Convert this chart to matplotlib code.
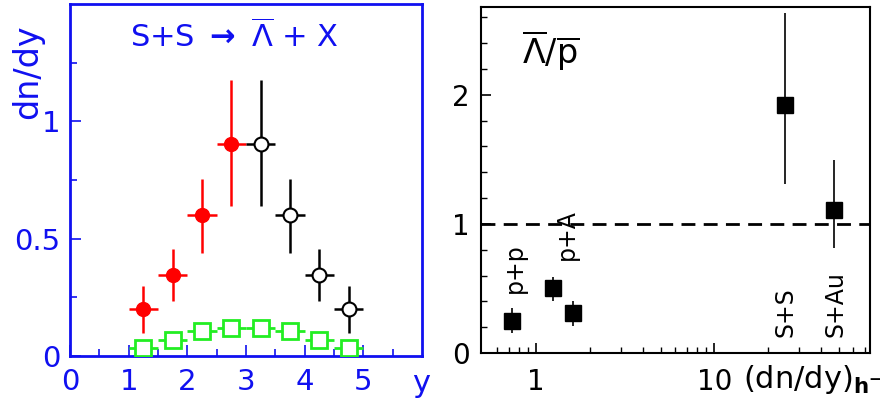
import matplotlib
matplotlib.use("Agg")
import matplotlib.pyplot as plt
from matplotlib.ticker import FixedLocator, NullFormatter

plt.rcParams['font.family'] = ['DejaVu Sans']
plt.rcParams['mathtext.fontset'] = 'dejavusans'

# ---- left panel data ----
y_fwd = [1.25, 1.75, 2.25, 2.75]
dn_fwd = [0.20, 0.345, 0.60, 0.905]
err_lo_fwd = [0.10, 0.11, 0.16, 0.265]
err_hi_fwd = [0.10, 0.11, 0.155, 0.27]
y_ref = [3.25, 3.75, 4.25, 4.75]
dn_ref = [0.905, 0.60, 0.345, 0.20]
err_lo_ref = [0.265, 0.16, 0.11, 0.10]
err_hi_ref = [0.27, 0.155, 0.11, 0.10]
y_green = [1.25, 1.75, 2.25, 2.75, 3.25, 3.75, 4.25, 4.75]
dn_green = [0.033, 0.07, 0.105, 0.12, 0.12, 0.105, 0.07, 0.033]
half_bin = 0.25

# ---- right panel data ----
labels = ["p+p", "p+A", "S+S", "S+Au"]
label_x = [0.762, 1.49, 25.1, 47.9]
label_y = [0.465, 0.72, 0.124, 0.124]
mult = [0.73, 1.25, 1.62, 25.1, 47.2]
ratio = [0.25, 0.50, 0.31, 1.92, 1.11]
ratio_lo = [0.095, 0.10, 0.10, 0.61, 0.30]
ratio_hi = [0.10, 0.09, 0.09, 0.71, 0.385]

W, H = 885, 403
fig = plt.figure(figsize=(W / 100, H / 100), dpi=100)

blue = '#1010f0'
green = '#22ee22'

# ================= left =================
ax = fig.add_axes([70 / W, (H - 356) / H, 352 / W, 352 / H])
ax.set_xlim(0, 6)
ax.set_ylim(0, 1.5)
for s in ax.spines.values():
    s.set_color(blue)
    s.set_linewidth(2)
ax.xaxis.set_major_locator(FixedLocator([0, 1, 2, 3, 4, 5]))
ax.xaxis.set_minor_locator(FixedLocator([0.5, 1.5, 2.5, 3.5, 4.5, 5.5]))
ax.yaxis.set_major_locator(FixedLocator([0, 0.5, 1]))
ax.yaxis.set_minor_locator(FixedLocator([0.25, 0.75, 1.25]))
ax.set_xticklabels(['0', '1', '2', '3', '4', '5'])
ax.set_yticklabels(['0', '0.5', '1'])
ax.tick_params(which='both', direction='in', colors=blue, top=False, right=False,
               labelsize=21, labelcolor=blue)
ax.tick_params(which='major', length=8, width=1.2)
ax.tick_params(which='minor', length=5, width=1.2)
ax.tick_params(axis='x', pad=9)
ax.tick_params(axis='y', pad=7)

ax.errorbar(y_green, dn_green, xerr=half_bin, fmt='s', color=green, mfc='white',
            mec=green, mew=2, ms=11, elinewidth=2, capsize=0, zorder=3)
ax.errorbar(y_fwd, dn_fwd, xerr=half_bin, yerr=[err_lo_fwd, err_hi_fwd], fmt='o',
            color='red', ms=10, elinewidth=1.8, capsize=0, zorder=4)
ax.errorbar(y_ref, dn_ref, xerr=half_bin, yerr=[err_lo_ref, err_hi_ref], fmt='o',
            color='black', mfc='white', mec='black', mew=1.5, ms=10,
            elinewidth=1.8, capsize=0, zorder=4)

ax.text(0.466, 0.909, r'S+S $\mathbf{\rightarrow}$ $\overline{\Lambda}$ + X', transform=ax.transAxes,
        ha='center', va='center', fontsize=22, color=blue)
fig.text(28 / W, (H - 72) / H, 'dn/dy', rotation=90, ha='center', va='center',
         fontsize=24, color=blue)
fig.text(421 / W, (H - 383) / H, 'y', ha='center', va='center', fontsize=22, color=blue)

# ================= right =================
ax2 = fig.add_axes([481 / W, (H - 353) / H, 389 / W, 346 / H])
ax2.set_xscale('log')
ax2.set_xlim(0.49, 75)
ax2.set_ylim(0, 2.68)
for s in ax2.spines.values():
    s.set_color('black')
    s.set_linewidth(1.5)
ax2.xaxis.set_major_locator(FixedLocator([1, 10]))
ax2.xaxis.set_minor_locator(FixedLocator([0.6, 0.7, 0.8, 0.9, 2, 3, 4, 5, 6, 7, 8, 9,
                                          20, 30, 40, 50, 60, 70]))
ax2.xaxis.set_minor_formatter(NullFormatter())
ax2.set_xticklabels(['1', '10'])
ax2.yaxis.set_major_locator(FixedLocator([0, 1, 2]))
ax2.yaxis.set_minor_locator(FixedLocator([0.2, 0.4, 0.6, 0.8, 1.2, 1.4, 1.6, 1.8,
                                          2.2, 2.4, 2.6]))
ax2.set_yticklabels(['0', '1', '2'])
ax2.tick_params(which='both', direction='in', top=False, right=False, labelsize=20)
ax2.tick_params(which='major', length=7, width=1.2)
ax2.tick_params(which='minor', length=4, width=1.0)
ax2.tick_params(axis='x', pad=11)
ax2.tick_params(axis='y', pad=8)
for lbl in ax2.get_xticklabels():
    if lbl.get_text() == '10':
        lbl.set_horizontalalignment('right')
        lbl.set_x(lbl.get_position()[0])
ax2.set_xticks([1, 10])
ax2.set_xticklabels(['1', '10'])
xlabs = ax2.get_xticklabels()
xlabs[1].set_ha('center')

ax2.axhline(1.0, color='black', lw=2, ls=(0, (5, 3)))
ax2.errorbar(mult, ratio, yerr=[ratio_lo, ratio_hi], fmt='s', color='black',
             ms=11.5, elinewidth=1.2, capsize=0, zorder=4)

ax2.text(0.105, 0.876, r'$\overline{\Lambda}/\overline{\mathrm{p}}$', transform=ax2.transAxes,
         ha='left', va='center', fontsize=24)
for xx, yy, t in zip(label_x, label_y, labels):
    ax2.text(xx, yy, t, rotation=90, ha='center', va='bottom', fontsize=17)
fig.text(743 / W, (H - 380) / H, r'(dn/dy)$_{\mathbf{h^{-}}}$', ha='left', va='center',
         fontsize=22)

fig.savefig('out.png', dpi=100)
